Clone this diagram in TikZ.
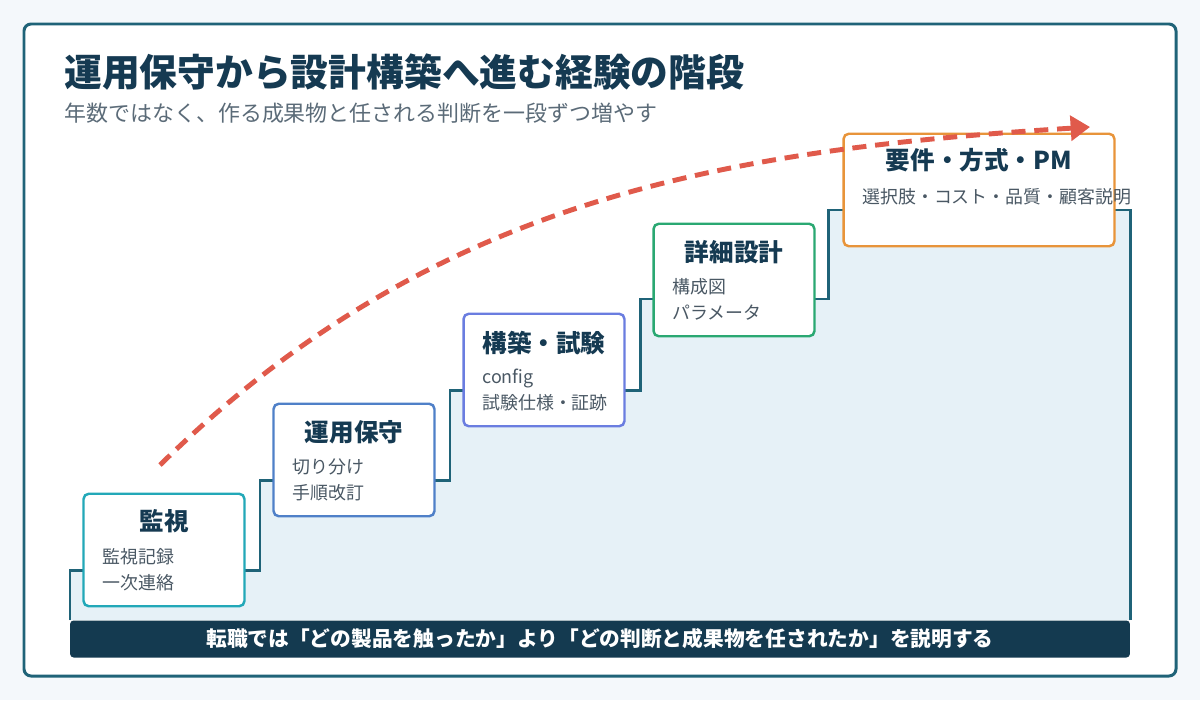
\documentclass[tikz,border=0pt]{standalone}
\usepackage{fontspec}
\setmainfont{Noto Sans CJK JP}
\usepackage{tikz}
\usetikzlibrary{arrows.meta,positioning,calc}
\usepackage{xcolor}
\definecolor{pagebg}{HTML}{F4F8FB}
\definecolor{framteal}{HTML}{1F6378}
\definecolor{titlenavy}{HTML}{153A52}
\definecolor{subgray}{HTML}{5B6B78}
\definecolor{itemgray}{HTML}{4A5864}
\definecolor{stairblue}{HTML}{E6F1F7}
\definecolor{barnavy}{HTML}{143A50}
\definecolor{cmon}{HTML}{22A8B8}
\definecolor{cops}{HTML}{4F80C8}
\definecolor{cbuild}{HTML}{6A7DE0}
\definecolor{cdesign}{HTML}{2AA872}
\definecolor{creq}{HTML}{E8943A}
\definecolor{arcred}{HTML}{E05A4B}

\begin{document}
\begin{tikzpicture}[x=0.02cm,y=-0.02cm,
  card/.style={rectangle,rounded corners=3pt,line width=1.4pt,fill=white,
               minimum width=3.22cm,minimum height=2.25cm,inner sep=0pt},
  cardtitle/.style={font=\fontsize{14}{16}\selectfont\bfseries,text=titlenavy,inner sep=0pt},
  item/.style={anchor=west,font=\fontsize{10.2}{12}\selectfont,text=itemgray,inner sep=0pt},
  stairline/.style={draw=framteal,line width=1.7pt},
  arc/.style={draw=arcred,line width=2.8pt,dash pattern=on 8pt off 5pt,
              -{Triangle[length=11pt,width=14pt]}},
]
% page and card frame
\useasboundingbox[fill=pagebg] (0,0) rectangle (1200,700);
\draw[framteal,line width=1.7pt,fill=white,rounded corners=4pt] (24,24) rectangle (1176,676);

% headings
\node[anchor=west,inner sep=0pt,text=titlenavy,font=\fontsize{21.5}{24}\selectfont\bfseries]
  (title) at (64,72) {運用保守から設計構築へ進む経験の階段};
\node[anchor=west,inner sep=0pt,text=subgray,font=\fontsize{12.5}{14}\selectfont]
  (subtitle) at (64,113) {年数ではなく、作る成果物と任される判断を一段ずつ増やす};

% staircase
\fill[stairblue] (70,620) -- (70,570) -- (260,570) -- (260,480) -- (450,480) -- (450,390)
  -- (640,390) -- (640,299) -- (828,299) -- (828,210) -- (1130,210) -- (1130,620) -- cycle;
\draw[stairline] (70,620) -- (70,570) -- (260,570) -- (260,480) -- (450,480) -- (450,390)
  -- (640,390) -- (640,299) -- (828,299) -- (828,210) -- (1130,210) -- (1130,620);

% step 1
\node[card,draw=cmon] (mon) at (164,550) {};
\node[cardtitle] (monT) at (164,521) {監視};
\node[item] (monA) at (102,557) {監視記録};
\node[item] (monB) at (102,583) {一次連絡};

% step 2
\node[card,draw=cops] (ops) at (354,460) {};
\node[cardtitle] (opsT) at (354,432) {運用保守};
\node[item] (opsA) at (292,467) {切り分け};
\node[item] (opsB) at (292,493) {手順改訂};

% step 3
\node[card,draw=cbuild] (bld) at (544,370) {};
\node[cardtitle] (bldT) at (544,343) {構築・試験};
\node[item] (bldA) at (482,378) {config};
\node[item] (bldB) at (482,403) {試験仕様・証跡};

% step 4
\node[card,draw=cdesign] (dsg) at (734,280) {};
\node[cardtitle] (dsgT) at (734,252) {詳細設計};
\node[item] (dsgA) at (672,287) {構成図};
\node[item] (dsgB) at (672,313) {パラメータ};

% step 5 (wider)
\node[card,draw=creq,minimum width=5.42cm] (req) at (979,190) {};
\node[cardtitle] (reqT) at (979,160) {要件・方式・PM};
\node[item] (reqA) at (862,197) {選択肢・コスト・品質・顧客説明};

% bottom message
\node[rectangle,fill=barnavy,rounded corners=2pt,minimum width=21.2cm,minimum height=0.74cm,
      text=white,font=\fontsize{11.8}{13}\selectfont\bfseries] (note) at (600,639)
  {転職では「どの製品を触ったか」より「どの判断と成果物を任されたか」を説明する};

% growth arc
\coordinate (arcstart) at (160,465);
\coordinate (arcend) at (1090,127);
\draw[arc] (arcstart) .. controls (430,200) and (720,150) .. (arcend);
\end{tikzpicture}
\end{document}
